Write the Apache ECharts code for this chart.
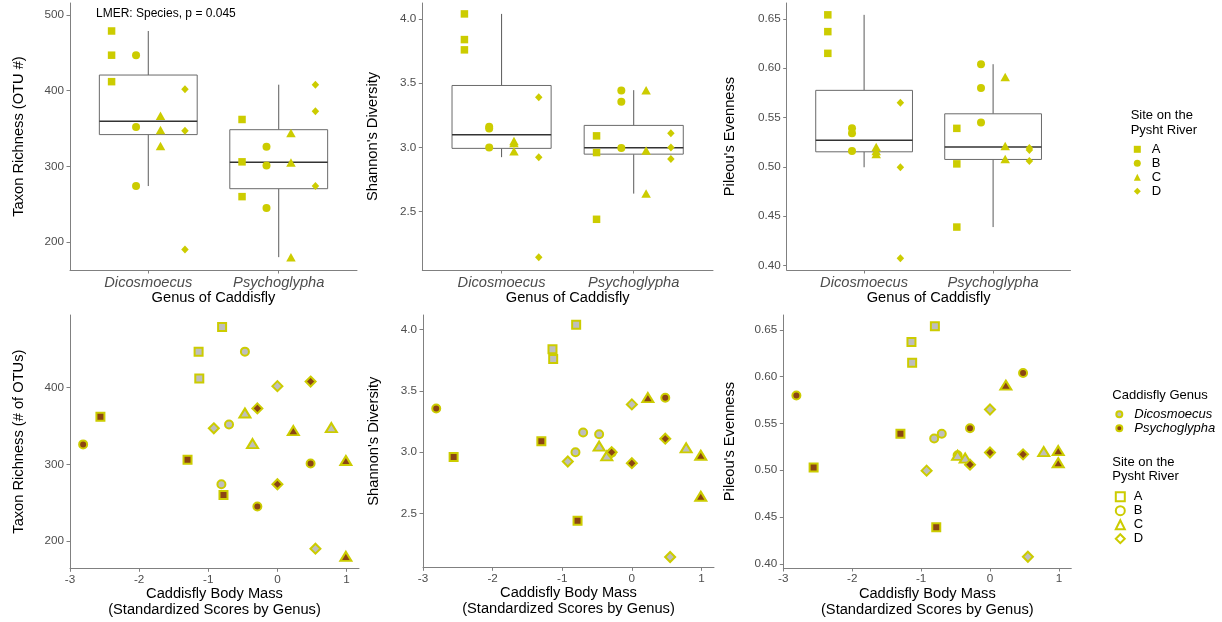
<!DOCTYPE html>
<html>
<head>
<meta charset="utf-8">
<script src="https://cdn.jsdelivr.net/npm/echarts@6/dist/echarts.min.js"></script>
<style>html,body{margin:0;padding:0;background:#fff}#main{width:1222px;height:622px}</style>
</head>
<body>
<div id="main"></div>
<script>
// 数据：每个属 12 个样本，每个站点 3 个
var genusNames = ['Dicosmoecus', 'Psychoglypha'];
var siteNames = ['A', 'B', 'C', 'D'];
var sampleGenus = [0,0,0,0,0,0,0,0,0,0,0,0, 1,1,1,1,1,1,1,1,1,1,1,1];
var sampleSite  = [0,0,0,1,1,1,2,2,2,3,3,3, 0,0,0,1,1,1,2,2,2,3,3,3];
var bodyMass = [-0.80,-1.14,-1.13, -0.47,-0.70,-0.81, -0.47,-0.36,0.78, 0.00,-0.92,0.55,
                -2.56,-1.30,-0.78, -2.81,0.48,-0.29, 0.23,0.99,0.99, 0.48,-0.29,0.00];
var richness = [479,447,412, 447,352,274, 367,327,348, 402,347,190,
                362,306,260, 326,301,245, 344,305,180, 408,373,274];
var shannon = [4.04,3.84,3.76, 3.147,3.16,3.00, 3.05,2.97,3.035, 3.39,2.924,2.144,
               2.96,3.09,2.44, 3.356,3.444,2.996, 3.446,2.975,2.64, 3.11,3.00,2.91];
var pielou = [0.654,0.637,0.615, 0.516,0.539,0.534, 0.516,0.513,0.520, 0.565,0.4996,0.4075,
              0.503,0.539,0.439, 0.580,0.604,0.545, 0.591,0.521,0.508, 0.517,0.506,0.519];

var richTicks = [200, 300, 400, 500];
var richTicksLow = [200, 300, 400];
var shannonTicks = [2.5, 3.0, 3.5, 4.0];
var pielouTicks = [0.40, 0.45, 0.50, 0.55, 0.60, 0.65];
var massTicks = [-3, -2, -1, 0, 1];
var annotation = 'LMER: Species, p = 0.045';

var FONT = "'Liberation Sans', Arial, sans-serif";
var YELLOW = '#CCCC00';
var genusColors = ['#BEBEBE', '#8B4513'];
var siteSymbols = ['rect', 'circle', 'triangle', 'diamond'];
var topSizes = [7.5, 8, [9.5, 8.5], [7.5, 8]];
var bottomSizes = [8, 8, [11, 9], [10, 10]];
var dodgeWidth = 0.75;
var boxHalf = 0.375;

var metrics = [
  {values: richness, topName: 'Taxon Richness (OTU #)', bottomName: 'Taxon Richness (# of OTUs)',
   topRange: [163, 516], bottomRange: [164.4, 494.8], ticks: richTicks, bTicks: richTicksLow, digits: 0, gap: [44, 44]},
  {values: shannon, topName: "Shannon's Diversity", bottomName: "Shannon's Diversity",
   topRange: [2.045, 4.125], bottomRange: [2.06, 4.12], ticks: shannonTicks, bTicks: shannonTicks, digits: 1, gap: [41.5, 42]},
  {values: pielou, topName: "Pileou's Evenness", bottomName: "Pileou's Evenness",
   topRange: [0.3955, 0.666], bottomRange: [0.3955, 0.666], ticks: pielouTicks, bTicks: pielouTicks, digits: 2, gap: [49, 46]}
];
var topGrids = [
  {left: 70, top: 3, width: 287, height: 267},
  {left: 422.3, top: 3, width: 290.7, height: 267},
  {left: 786.7, top: 3, width: 283.8, height: 267}
];
var bottomGrids = [
  {left: 70, top: 315, width: 289, height: 253.3},
  {left: 423, top: 315, width: 291, height: 252.3},
  {left: 783.3, top: 315, width: 288, height: 253}
];

function quantile(sorted, p) {
  var h = (sorted.length - 1) * p;
  var lo = Math.floor(h);
  var next = lo + 1 < sorted.length ? sorted[lo + 1] : sorted[lo];
  return sorted[lo] + (h - lo) * (next - sorted[lo]);
}

function boxStats(vals) {
  var s = vals.slice().sort(function(a, b) { return a - b; });
  var q1 = quantile(s, 0.25), med = quantile(s, 0.5), q3 = quantile(s, 0.75);
  var iqr = q3 - q1;
  var lo = s.filter(function(v) { return v >= q1 - 1.5 * iqr; })[0];
  var hiArr = s.filter(function(v) { return v <= q3 + 1.5 * iqr; });
  return [lo, q1, med, q3, hiArr[hiArr.length - 1]];
}

function renderBox(params, api) {
  var x = api.value(0);
  var lo = api.coord([x, api.value(1)]);
  var q1 = api.coord([x, api.value(2)]);
  var md = api.coord([x, api.value(3)]);
  var q3 = api.coord([x, api.value(4)]);
  var hi = api.coord([x, api.value(5)]);
  var l = api.coord([x - boxHalf, api.value(3)])[0];
  var r = api.coord([x + boxHalf, api.value(3)])[0];
  var ls = {stroke: '#5a5a5a', lineWidth: 1};
  return {type: 'group', children: [
    {type: 'line', shape: {x1: lo[0], y1: lo[1], x2: q1[0], y2: q1[1]}, style: ls},
    {type: 'line', shape: {x1: q3[0], y1: q3[1], x2: hi[0], y2: hi[1]}, style: ls},
    {type: 'rect', shape: {x: l, y: q3[1], width: r - l, height: q1[1] - q3[1]},
     style: {fill: '#fff', stroke: '#6a6a6a', lineWidth: 1}},
    {type: 'line', shape: {x1: l, y1: md[1], x2: r, y2: md[1]}, style: {stroke: '#333', lineWidth: 1.5}}
  ]};
}

var axisLineStyle = {show: true, onZero: false, lineStyle: {color: '#808080', width: 1}};
var tickLabel = {color: '#4D4D4D', fontSize: 11.7, fontFamily: FONT};
var nameStyle = {color: '#000', fontSize: 14.67, fontFamily: FONT};

var grids = [], xAxes = [], yAxes = [], series = [];

metrics.forEach(function(m, k) {
  // 上排：箱线图 + 按站点分组的点
  var gi = grids.length;
  grids.push(topGrids[k]);
  xAxes.push({
    gridIndex: gi, type: 'value', min: 0.4, max: 2.6,
    name: 'Genus of Caddisfly', nameLocation: 'middle', nameGap: 19, nameTextStyle: nameStyle,
    axisLine: axisLineStyle, splitLine: {show: false},
    axisTick: {show: true, length: 3.5, lineStyle: {color: '#808080'}, customValues: [1, 2]},
    axisLabel: {customValues: [1, 2], margin: 5, color: '#4D4D4D', fontSize: 14.67, fontStyle: 'italic', fontFamily: FONT,
      formatter: function(v) { return genusNames[Math.round(v) - 1]; }}
  });
  yAxes.push({
    gridIndex: gi, type: 'value', min: m.topRange[0], max: m.topRange[1],
    name: m.topName, nameLocation: 'middle', nameRotate: 90, nameGap: m.gap[0], nameTextStyle: nameStyle,
    axisLine: axisLineStyle, splitLine: {show: false},
    axisTick: {show: true, length: 3.5, lineStyle: {color: '#808080'}, customValues: m.ticks},
    axisLabel: Object.assign({customValues: m.ticks, margin: 6,
      formatter: function(v) { return v.toFixed(m.digits); }}, tickLabel)
  });
  var boxData = genusNames.map(function(g, gIdx) {
    var vals = m.values.filter(function(v, i) { return sampleGenus[i] === gIdx; });
    return [gIdx + 1].concat(boxStats(vals));
  });
  series.push({
    type: 'custom', xAxisIndex: gi, yAxisIndex: gi, renderItem: renderBox,
    encode: {x: 0, y: [1, 2, 3, 4, 5]}, data: boxData, silent: true, z: 1
  });
  siteNames.forEach(function(s, sIdx) {
    var pts = [];
    m.values.forEach(function(v, i) {
      if (sampleSite[i] === sIdx) {
        pts.push([sampleGenus[i] + 1 + (sIdx - 1.5) * dodgeWidth / 4, v]);
      }
    });
    series.push({
      type: 'scatter', name: s, xAxisIndex: gi, yAxisIndex: gi, data: pts,
      symbol: siteSymbols[sIdx], symbolSize: topSizes[sIdx],
      itemStyle: {color: YELLOW, opacity: 1}, z: 3
    });
  });

  // 下排：体重 vs 指标
  var bi = grids.length;
  grids.push(bottomGrids[k]);
  xAxes.push({
    gridIndex: bi, type: 'value', min: -3.0, max: 1.18,
    name: 'Caddisfly Body Mass\n(Standardized Scores by Genus)', nameLocation: 'middle', nameGap: 18,
    nameTextStyle: Object.assign({lineHeight: 16}, nameStyle),
    axisLine: axisLineStyle, splitLine: {show: false},
    axisTick: {show: true, length: 3.5, lineStyle: {color: '#808080'}, customValues: massTicks},
    axisLabel: Object.assign({customValues: massTicks, margin: 5}, tickLabel)
  });
  yAxes.push({
    gridIndex: bi, type: 'value', min: m.bottomRange[0], max: m.bottomRange[1],
    name: m.bottomName, nameLocation: 'middle', nameRotate: 90, nameGap: m.gap[1], nameTextStyle: nameStyle,
    axisLine: axisLineStyle, splitLine: {show: false},
    axisTick: {show: true, length: 3.5, lineStyle: {color: '#808080'}, customValues: m.bTicks},
    axisLabel: Object.assign({customValues: m.bTicks, margin: 6,
      formatter: function(v) { return v.toFixed(m.digits); }}, tickLabel)
  });
  genusNames.forEach(function(g, gIdx) {
    var pts = [];
    m.values.forEach(function(v, i) {
      if (sampleGenus[i] === gIdx) pts.push([bodyMass[i], v, sampleSite[i]]);
    });
    series.push({
      type: 'scatter', name: g, xAxisIndex: bi, yAxisIndex: bi, data: pts,
      symbol: function(val) { return siteSymbols[val[2]]; },
      symbolSize: function(val) { return bottomSizes[val[2]]; },
      itemStyle: {color: genusColors[gIdx], borderColor: YELLOW, borderWidth: 2, opacity: 1}, z: 3
    });
  });
});

var legendText = {fontSize: 13, lineHeight: 14, color: '#000', fontFamily: FONT};
var titleStyle = {fontSize: 13, lineHeight: 14.5, fontWeight: 'normal', color: '#000', fontFamily: FONT};

var myChart = echarts.init(document.getElementById('main'), null, {renderer: 'canvas'});
myChart.setOption({
  animation: false,
  backgroundColor: '#fff',
  title: [
    {text: annotation, left: 96, top: 8, padding: 0,
     textStyle: {fontSize: 12, fontWeight: 'normal', color: '#000', fontFamily: FONT}},
    {text: 'Site on the\nPysht River', left: 1130.7, top: 108.5, padding: 0, textStyle: titleStyle},
    {text: 'Caddisfly Genus', left: 1112.3, top: 388, padding: 0, textStyle: titleStyle},
    {text: 'Site on the\nPysht River', left: 1112.3, top: 455, padding: 0, textStyle: titleStyle}
  ],
  legend: [
    {orient: 'vertical', left: 1133.8, top: 142.3, itemWidth: 7, itemHeight: 7, itemGap: 0,
     selectedMode: false, padding: 0, textStyle: Object.assign({padding: [0, 0, 0, 6]}, legendText),
     data: siteNames.map(function(s, i) {
       return {name: s, icon: siteSymbols[i], itemStyle: {color: YELLOW, borderWidth: 0}};
     })},
    {orient: 'vertical', left: 1115.3, top: 407.3, itemWidth: 6, itemHeight: 6, itemGap: 0,
     selectedMode: false, padding: 0, textStyle: Object.assign({padding: [0, 0, 0, 7]}, legendText),
     data: genusNames.map(function(g, i) {
       return {name: g, icon: 'circle', textStyle: {fontStyle: 'italic'},
               itemStyle: {color: genusColors[i], borderColor: YELLOW, borderWidth: 2}};
     })},
    {orient: 'vertical', left: 1114.8, top: 489.7, itemWidth: 9, itemHeight: 9, itemGap: 0,
     selectedMode: false, padding: 0, textStyle: Object.assign({padding: [0, 0, 0, 4]}, legendText),
     data: siteNames.map(function(s, i) {
       return {name: s, icon: siteSymbols[i],
               itemStyle: {color: '#fff', borderColor: YELLOW, borderWidth: 2}};
     })}
  ],
  grid: grids,
  xAxis: xAxes,
  yAxis: yAxes,
  series: series
});
</script>
</body>
</html>
